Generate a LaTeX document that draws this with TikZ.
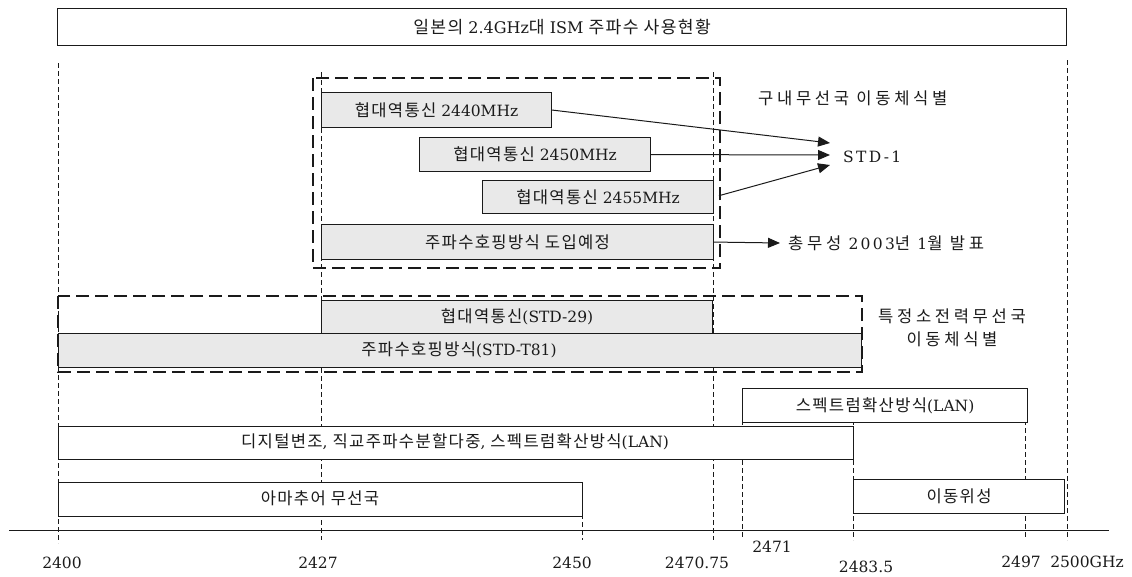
\documentclass[tikz,border=0pt]{standalone}
\usepackage{fontspec}
\setmainfont{DejaVu Serif}
\newfontfamily\krfont[Scale=1.07, LetterSpace=8]{Noto Sans CJK KR}
\newfontfamily\krwide[Scale=1.07, LetterSpace=22]{Noto Sans CJK KR}
\newfontfamily\latwide[LetterSpace=15]{DejaVu Serif}
\newcommand\K[1]{{\krfont #1}}
\newcommand\KW[1]{{\krwide #1}}
\usetikzlibrary{arrows.meta,calc}
\definecolor{boxgray}{HTML}{E9E9E9}
\definecolor{ink}{HTML}{1A1A1A}
\begin{document}
\begin{tikzpicture}[x=1pt,y=-1pt,
  every node/.style={font=\fontsize{15.5}{18}\selectfont, text=ink, inner sep=0pt},
  wbox/.style={draw=ink, line width=1.1pt, fill=white, anchor=north west},
  gbox/.style={wbox, fill=boxgray},
  vline/.style={draw=ink, line width=0.8pt, dash pattern=on 5pt off 3pt},
  bigdash/.style={draw=ink, line width=1.8pt, dash pattern=on 13pt off 6pt},
  arr/.style={draw=ink, line width=1pt, -{Triangle[length=12pt,width=10pt]}},
  widelbl/.style={font=\latwide\fontsize{15.5}{23}\selectfont}]
\useasboundingbox (0,0) rectangle (1132,576);
% title
\node[wbox, minimum width=1009pt, minimum height=37pt] (title) at (57,8) {};
\node[font=\fontsize{16}{18}\selectfont] at (title.center) {\K{일본의} 2.4GHz\K{대} ISM \K{주파수 사용현황}};
% frequency scale lines
\draw[vline] (58,63) -- (58,543);
\draw[vline] (321,72) -- (321,540);
\draw[vline] (582,482) -- (582,540);
\draw[vline] (713,72) -- (713,540);
\draw[vline] (742,420) -- (742,538);
\draw[vline] (853,420) -- (853,540);
\draw[vline] (1025,420) -- (1025,538);
\draw[vline] (1067,60) -- (1067,540);
\draw[ink, line width=1pt] (9,530) -- (1109,530);
% axis labels
\node (f2400) at (62,563) {2400};
\node (f2427) at (318,563) {2427};
\node (f2450) at (572,563) {2450};
\node (f247075) at (697,563) {2470.75};
\node (f2471) at (772,547) {2471};
\node (f24835) at (866,567) {2483.5};
\node (f2497) at (1021,562) {2497};
\node (f2500) at (1087,562) {2500GHz};
% upper group
\node[gbox, minimum width=230pt, minimum height=35pt] (b2440) at (321,92) {};
\node at (b2440.center) {\K{협대역통신} 2440MHz};
\node[gbox, minimum width=231pt, minimum height=34pt] (b2450) at (419,137) {};
\node at (b2450.center) {\K{협대역통신} 2450MHz};
\node[gbox, minimum width=231pt, minimum height=33pt] (b2455) at (482,180) {};
\node at (b2455.center) {\K{협대역통신} 2455MHz};
\node[gbox, minimum width=392pt, minimum height=35pt] (bfh) at (321,224) {};
\node at (bfh.center) {\K{주파수호핑방식 도입예정}};
\draw[bigdash] (313,78) rectangle (720,268);
\node[widelbl, anchor=west] (hdr1) at (758,98) {\KW{구내무선국 이동체식별}};
\coordinate (t1) at (830,143);
\coordinate (t2) at (830,155);
\coordinate (t3) at (830,165);
\node[widelbl, anchor=west] (std1) at (843,157) {STD-1};
\draw[arr] (b2440.east) -- (t1);
\draw[arr] (b2450.east) -- (t2);
\draw[arr, shorten <=5pt] (b2455.east) -- (t3);
\coordinate (t4) at (780,243);
\draw[arr] (bfh.east) -- (t4);
\node[widelbl, anchor=west] (mic) at (788,243) {\KW{총무성} 2003\KW{년} 1\KW{월 발표}};
% lower group
\node[gbox, minimum width=391pt, minimum height=33pt] (s29) at (321,300) {};
\node at (s29.center) {\K{협대역통신}(STD-29)};
\node[gbox, minimum width=803pt, minimum height=34pt] (t81) at (58,333) {};
\node at (459,350) {\K{주파수호핑방식}(STD-T81)};
\draw[bigdash] (58,296) rectangle (862,372);
\node[widelbl, align=center] (hdr2) at (952,328) {\KW{특정소전력무선국}\\\KW{이동체식별}};
% bottom bands
\node[wbox, minimum width=285pt, minimum height=34pt] (lan) at (742,388) {};
\node at (lan.center) {\K{스펙트럼확산방식}(LAN)};
\node[wbox, minimum width=795pt, minimum height=33pt] (dig) at (58,426) {};
\node at (455,442) {\K{디지털변조}, \K{직교주파수분할다중}, \K{스펙트럼확산방식}(LAN)};
\node[wbox, minimum width=524pt, minimum height=34pt] (ham) at (58,482) {};
\node at (320,498) {\K{아마추어 무선국}};
\node[wbox, minimum width=211pt, minimum height=34pt] (sat) at (853,479) {};
\node at (sat.center) {\K{이동위성}};
\end{tikzpicture}
\end{document}
